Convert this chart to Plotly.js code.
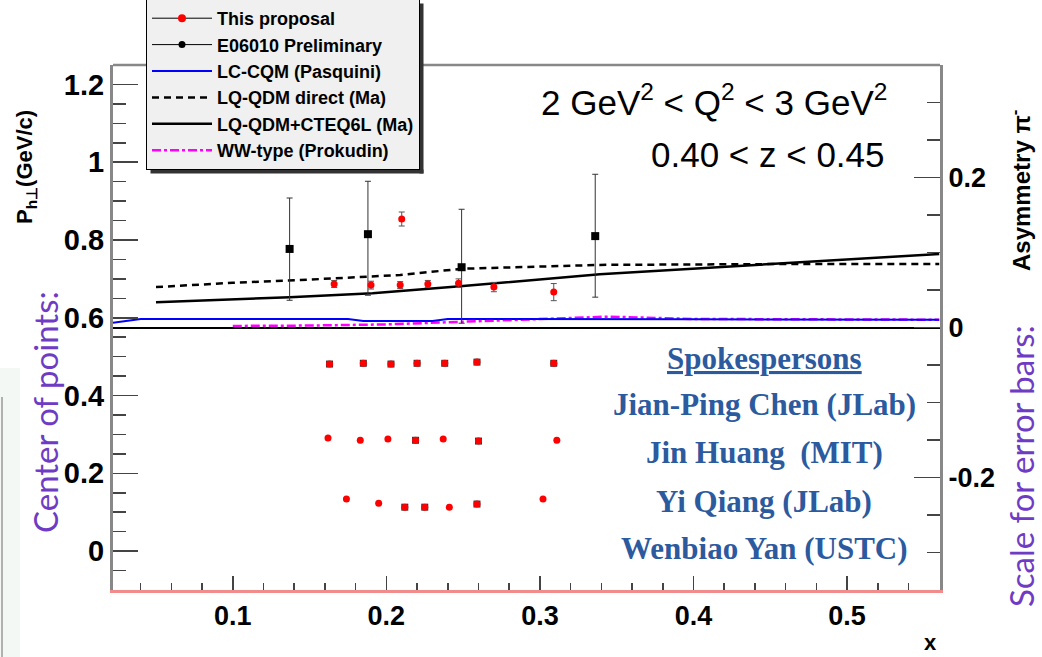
<!DOCTYPE html>
<html>
<head>
<meta charset="utf-8">
<script src="https://cdn.plot.ly/plotly-3.0.1.min.js"></script>
<style>html,body{margin:0;padding:0;background:#fff;}#chart{width:1042px;height:657px;}</style>
</head>
<body>
<div id="chart"></div>
<script>
// ---- data ----
// "This proposal" points (top band)
const propX = [0.166, 0.190, 0.209, 0.210, 0.227, 0.247, 0.270, 0.309];
const propY = [0.687, 0.684, 0.684, 0.854, 0.687, 0.689, 0.679, 0.666];
const propErr = [0.009, 0.010, 0.009, 0.018, 0.009, 0.011, 0.012, 0.022];

// E06010 Preliminary
const e06X = [0.137, 0.188, 0.249, 0.336];
const e06Y = [0.777, 0.815, 0.730, 0.810];
const e06ErrUp = [0.131, 0.136, 0.149, 0.159];
const e06ErrDn = [0.132, 0.157, 0.144, 0.157];

// error-bar scale rows ("center of points")
const row1X = [0.163, 0.185, 0.203, 0.220, 0.238, 0.259, 0.309];
const row1Y = [0.481, 0.483, 0.481, 0.483, 0.483, 0.486, 0.483];
const row2X = [0.162, 0.183, 0.201, 0.219, 0.237, 0.260, 0.311];
const row2Y = [0.291, 0.285, 0.288, 0.285, 0.288, 0.283, 0.285];
const row3X = [0.174, 0.195, 0.212, 0.225, 0.241, 0.259, 0.302];
const row3Y = [0.134, 0.123, 0.113, 0.113, 0.113, 0.121, 0.134];
const rowErr = 0.006;
// points where a dark square sits under the red one
const sqX = [0.163, 0.185, 0.203, 0.220, 0.238, 0.259, 0.309, 0.219, 0.260, 0.212, 0.225, 0.259];
const sqY = [0.481, 0.483, 0.481, 0.483, 0.483, 0.486, 0.483, 0.285, 0.283, 0.113, 0.113, 0.121];

// model curves
const lcX = [0.022, 0.040, 0.175, 0.185, 0.230, 0.240, 0.400, 0.560];
const lcY = [0.587, 0.597, 0.597, 0.592, 0.592, 0.597, 0.596, 0.595];
const maDirX = [0.050, 0.100, 0.144, 0.209, 0.249, 0.274, 0.339, 0.450, 0.560];
const maDirY = [0.679, 0.690, 0.697, 0.710, 0.726, 0.729, 0.736, 0.738, 0.738];
const maCtX = [0.050, 0.137, 0.191, 0.248, 0.339, 0.450, 0.560];
const maCtY = [0.640, 0.653, 0.663, 0.681, 0.712, 0.738, 0.764];
const wwX = [0.100, 0.150, 0.200, 0.250, 0.300, 0.345, 0.400, 0.560];
const wwY = [0.579, 0.580, 0.583, 0.590, 0.597, 0.603, 0.597, 0.595];

// axis tick labels
const y2TickVals = [-0.2, 0, 0.2];
const y2TickText = ['-0.2', '0', '0.2'];

const legendNames = ['This proposal', 'E06010 Preliminary', 'LC-CQM (Pasquini)',
  'LQ-QDM direct (Ma)', 'LQ-QDM+CTEQ6L (Ma)', 'WW-type (Prokudin)'];

const speakers = ['<u>Spokespersons</u>', 'Jian-Ping Chen (JLab)', 'Jin Huang  (MIT)',
  'Yi Qiang (JLab)', 'Wenbiao Yan (USTC)'];

// ---- layout helpers (pixel -> paper) ----
const W = 1042, H = 657;
const L = 113, R = 940, T = 65, B = 590;
const px = v => (v - L) / (R - L);
const py = v => (B - v) / (B - T);

const traces = [];
// WW (drawn first so blue lies over it)
traces.push({x: wwX, y: wwY, mode: 'lines', name: legendNames[5], legendrank: 6,
  line: {color: '#ff00ff', width: 2.5, dash: 'dashdot'}});
traces.push({x: lcX, y: lcY, mode: 'lines', name: legendNames[2], legendrank: 3,
  line: {color: '#0000ff', width: 2}});
traces.push({x: maDirX, y: maDirY, mode: 'lines', name: legendNames[3], legendrank: 4,
  line: {color: '#000', width: 2.5, dash: '7px,5px'}});
traces.push({x: maCtX, y: maCtY, mode: 'lines', name: legendNames[4], legendrank: 5,
  line: {color: '#000', width: 2.5}});
// E06010 points
traces.push({x: e06X, y: e06Y, mode: 'markers', showlegend: false,
  marker: {color: '#000', symbol: 'square', size: 8},
  error_y: {type: 'data', symmetric: false, array: e06ErrUp, arrayminus: e06ErrDn,
    color: '#333', thickness: 1, width: 3}});
// dark squares under some row points
traces.push({x: sqX, y: sqY, mode: 'markers', showlegend: false,
  marker: {color: '#333', symbol: 'square', size: 7}});
// rows
[[row1X,row1Y],[row2X,row2Y],[row3X,row3Y]].forEach(r => {
  traces.push({x: r[0], y: r[1], mode: 'markers', showlegend: false,
    marker: {color: '#ff0000', size: 7},
    error_y: {type: 'constant', value: rowErr, color: '#666', thickness: 1, width: 2}});
});
// proposal points
traces.push({x: propX, y: propY, mode: 'markers', showlegend: false,
  marker: {color: '#ff0000', size: 7},
  error_y: {type: 'data', array: propErr, color: '#555', thickness: 1, width: 3}});
// legend proxies for point series
traces.push({x: [null], y: [null], mode: 'lines+markers', name: legendNames[0], legendrank: 1,
  line: {color: '#000', width: 1}, marker: {color: '#ff0000', size: 8}});
traces.push({x: [null], y: [null], mode: 'lines+markers', name: legendNames[1], legendrank: 2,
  line: {color: '#000', width: 1}, marker: {color: '#000', size: 7}});
// right axis anchor
traces.push({x: [null], y: [null], yaxis: 'y2', mode: 'markers', showlegend: false, hoverinfo: 'skip'});

const annFont = {family: 'Liberation Sans, Arial', color: '#000'};
const annotations = [
  {xref: 'paper', yref: 'paper', x: px(889), y: py(100), xanchor: 'right', yanchor: 'middle',
   text: '2 GeV<sup>2</sup> &lt; Q<sup>2</sup> &lt; 3 GeV<sup>2</sup>', showarrow: false,
   font: Object.assign({size: 35}, annFont)},
  {xref: 'paper', yref: 'paper', x: px(887), y: py(155), xanchor: 'right', yanchor: 'middle',
   text: '0.40 &lt; z &lt; 0.45', showarrow: false, font: Object.assign({size: 35}, annFont)},
  {xref: 'paper', yref: 'paper', x: px(26), y: py(167), xanchor: 'center', yanchor: 'middle',
   textangle: -90, text: 'P<sub>h\u22A5</sub>(GeV/c)', showarrow: false,
   font: {family: 'Liberation Sans, Arial', size: 22, weight: 'bold', color: '#000'}},
  {xref: 'paper', yref: 'paper', x: px(1020), y: py(190), xanchor: 'center', yanchor: 'middle',
   textangle: -90, text: 'Asymmetry \u03C0<sup>-</sup>', showarrow: false,
   font: {family: 'Liberation Sans, Arial', size: 24, weight: 'bold', color: '#000'}},
  {xref: 'paper', yref: 'paper', x: px(45), y: py(412), xanchor: 'center', yanchor: 'middle',
   textangle: -90, text: 'Center of points:', showarrow: false,
   font: {family: 'Lato', size: 33, color: '#6e3cc4'}},
  {xref: 'paper', yref: 'paper', x: px(1021), y: py(466), xanchor: 'center', yanchor: 'middle',
   textangle: -90, text: 'Scale for error bars:', showarrow: false,
   font: {family: 'Lato', size: 33, color: '#6e3cc4'}},
  {xref: 'paper', yref: 'paper', x: px(930), y: py(642), xanchor: 'center', yanchor: 'middle',
   text: 'x', showarrow: false,
   font: {family: 'Liberation Sans, Arial', size: 22, weight: 'bold', color: '#000'}}
];
const spkY = [358, 405, 452, 501, 548];
speakers.forEach((t, i) => {
  annotations.push({xref: 'paper', yref: 'paper', x: px(764), y: py(spkY[i]),
    xanchor: 'center', yanchor: 'middle', text: t, showarrow: false,
    font: {family: 'Liberation Serif, serif', size: 31, weight: 'bold', color: '#2C5A9E'}});
});

const shapes = [
  // faint strip at the far left
  {type: 'rect', xref: 'paper', yref: 'paper', x0: px(0), x1: px(20), y0: py(657), y1: py(368),
   fillcolor: '#f4f8f4', line: {width: 0}, layer: 'below'},
  {type: 'line', xref: 'paper', yref: 'paper', x0: px(2), x1: px(2), y0: py(657), y1: py(397),
   line: {color: '#999', width: 1.5}},
  // top frame
  {type: 'line', xref: 'paper', yref: 'paper', x0: 0, x1: 1, y0: 1, y1: 1,
   line: {color: '#888', width: 2.5}}
];

const tickFont = {family: 'Liberation Sans, Arial', size: 29, weight: 'bold', color: '#000'};
const layout = {
  width: W, height: H,
  margin: {l: L, r: W - R, t: T, b: H - B, pad: 0, autoexpand: false},
  paper_bgcolor: '#fff', plot_bgcolor: '#fff',
  showlegend: true,
  legend: {x: px(146), y: py(-1), xanchor: 'left', yanchor: 'top',
    bgcolor: '#f0f0f0', bordercolor: '#000', borderwidth: 1,
    font: {family: 'Liberation Sans, Arial', size: 18, weight: 'bold', color: '#000'},
    traceorder: 'normal', itemwidth: 60},
  xaxis: {range: [0.022, 0.5605], tick0: 0, dtick: 0.1, ticks: 'inside', ticklen: 14,
    tickwidth: 1.5, tickcolor: '#444', showgrid: false, zeroline: false,
    showline: true, linecolor: '#f08c8c', linewidth: 3,
    minor: {dtick: 0.02, ticks: 'inside', ticklen: 7, tickwidth: 1.5, tickcolor: '#444'},
    tickfont: {family: 'Liberation Sans, Arial', size: 27, weight: 'bold', color: '#000'}},
  yaxis: {range: [-0.1, 1.25], tick0: 0, dtick: 0.2, ticks: 'inside', ticklen: 25,
    tickwidth: 1.5, tickcolor: '#444', showgrid: false, zeroline: false,
    showline: true, linecolor: '#888', linewidth: 3,
    minor: {dtick: 0.05, ticks: 'inside', ticklen: 13, tickwidth: 1.5, tickcolor: '#444'},
    tickfont: tickFont},
  yaxis2: {overlaying: 'y', side: 'right', range: [-0.35, 0.35],
    tickmode: 'array', tickvals: y2TickVals, ticktext: y2TickText,
    ticks: 'inside', ticklen: 26, tickwidth: 1.5, tickcolor: '#444',
    showgrid: false, zeroline: true, zerolinecolor: '#000', zerolinewidth: 2,
    showline: true, linecolor: '#888', linewidth: 3,
    minor: {tickmode: 'linear', tick0: 0, dtick: 0.05, ticks: 'inside', ticklen: 13, tickwidth: 1.5, tickcolor: '#444'},
    tickfont: {family: 'Liberation Sans, Arial', size: 27, weight: 'bold', color: '#000'}},
  annotations: annotations,
  shapes: shapes
};

Plotly.newPlot('chart', traces, layout, {displayModeBar: false, staticPlot: true}).then(gd => {
  // drop shadow for the legend box, sized from the drawn legend
  const bg = gd.querySelector('.legend .bg');
  if (!bg) return;
  const box = bg.getBoundingClientRect();
  const host = gd.getBoundingClientRect();
  const x0 = box.left - host.left, x1 = box.right - host.left;
  const y0 = box.top - host.top, y1 = box.bottom - host.top;
  const sh = 4;
  const extra = [
    {type: 'rect', xref: 'paper', yref: 'paper', x0: px(x0 + sh), x1: px(x1 + sh),
     y0: py(y1 + sh), y1: py(y1), fillcolor: '#333', line: {width: 0}},
    {type: 'rect', xref: 'paper', yref: 'paper', x0: px(x1), x1: px(x1 + sh),
     y0: py(y1 + sh), y1: py(y0 + sh), fillcolor: '#333', line: {width: 0}}
  ];
  return Plotly.relayout(gd, {shapes: shapes.concat(extra)});
});
</script>
</body>
</html>
